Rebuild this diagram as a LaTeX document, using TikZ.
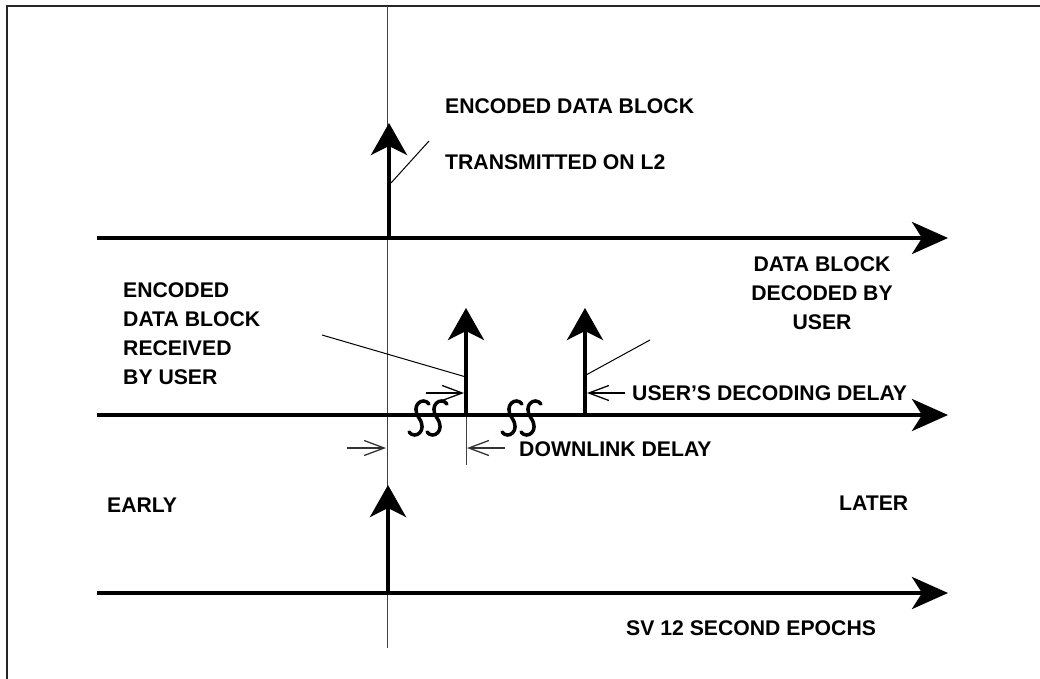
\documentclass[tikz,border=0pt]{standalone}
\usepackage{fontspec}
\setmainfont{Liberation Sans}
\usetikzlibrary{arrows.meta}
\tikzset{
  lbl/.style={font=\fontsize{21.2}{29}\selectfont\bfseries, inner sep=0pt},
  axisline/.style={line width=4pt, -{Stealth[length=36pt,width=32pt,inset=10pt]}},
  pulse/.style={line width=4pt, -{Stealth[length=32pt,width=36pt,inset=9pt]}},
  thinline/.style={line width=1pt},
  guide/.style={line width=0.9pt, black!75},
  smallarr/.style={line width=1.3pt, -{Straight Barb[length=20pt,width=15pt]}},
  brkS/.pic={\draw[line width=3.5pt, line cap=round] (10,-14) .. controls (4,-22) and (-9,-13) .. (0,0) .. controls (9,13) and (-4,22) .. (-10,14);},
}
\begin{document}
\begin{tikzpicture}[x=1pt,y=-1pt]
\useasboundingbox (0,0) rectangle (1040,679);
% frame
\draw[line width=2pt, black!85] (7,679) -- (7,6) -- (1040,6);
% coordinates
\coordinate (ax1s) at (97,238); \coordinate (ax1e) at (948,238);
\coordinate (ax2s) at (97,415); \coordinate (ax2e) at (948,415);
\coordinate (ax3s) at (97,593); \coordinate (ax3e) at (948,593);
\coordinate (vtop) at (387,6); \coordinate (vbot) at (387,648);
\coordinate (p1b) at (389,238); \coordinate (p1t) at (389,123);
\coordinate (p2b) at (466,415); \coordinate (p2t) at (466,308);
\coordinate (p3b) at (585,415); \coordinate (p3t) at (585,308);
\coordinate (p4b) at (388,593); \coordinate (p4t) at (388,485);
% thin time reference
\draw[guide] (vtop) -- (vbot);
\draw[guide] (p2b) -- (466,465);
% axes
\draw[axisline] (ax1s) -- (ax1e);
\draw[axisline] (ax2s) -- (ax2e);
\draw[axisline] (ax3s) -- (ax3e);
% pulses
\draw[pulse] (p1b) -- (p1t);
\draw[pulse] (p2b) -- (p2t);
\draw[pulse] (p3b) -- (p3t);
\draw[pulse] (p4b) -- (p4t);
% breaks
\pic at (419,418) {brkS};
\pic at (437,418) {brkS};
\pic at (512,418) {brkS};
\pic at (531,418) {brkS};
% labels
\node[lbl, anchor=base west] (t1) at (445,113.5) {ENCODED DATA BLOCK};
\node[lbl, anchor=base west] (t2) at (445,169.5) {TRANSMITTED ON L2};
\node[lbl, anchor=north west, align=left] (t3) at (123,282.4) {ENCODED\\DATA BLOCK\\RECEIVED\\BY USER};
\node[lbl, anchor=north, align=center] (t4) at (822,256.4) {DATA BLOCK\\DECODED BY\\USER};
\node[lbl, anchor=base west] (t5) at (632,400.6) {USER’S DECODING DELAY};
\node[lbl, anchor=base west] (t6) at (519,456.6) {DOWNLINK DELAY};
\node[lbl, anchor=base west] (t7) at (107,512.6) {EARLY};
\node[lbl, anchor=base west] (t8) at (839,510.6) {LATER};
\node[lbl, anchor=base west] (t9) at (626,635.6) {SV 12 SECOND EPOCHS};
% leader lines
\coordinate (l1a) at (429,141); \coordinate (l1b) at (391,183);
\draw[thinline] (l1a) -- (l1b);
\coordinate (l2a) at (322,335); \coordinate (l2b) at (466,377);
\draw[thinline] (l2a) -- (l2b);
\coordinate (l3a) at (650,340); \coordinate (l3b) at (586,375);
\draw[thinline] (l3a) -- (l3b);
% delay arrows
\coordinate (d1s) at (426,393); \coordinate (d1e) at (464,393);
\draw[smallarr] (d1s) -- (d1e);
\coordinate (d2s) at (625,393); \coordinate (d2e) at (587,393);
\draw[smallarr] (d2s) -- (d2e);
\coordinate (d3s) at (347,448); \coordinate (d3e) at (386,448);
\draw[smallarr, black!80] (d3s) -- (d3e);
\coordinate (d4s) at (505,448); \coordinate (d4e) at (467,448);
\draw[smallarr, black!80] (d4s) -- (d4e);
\end{tikzpicture}
\end{document}
